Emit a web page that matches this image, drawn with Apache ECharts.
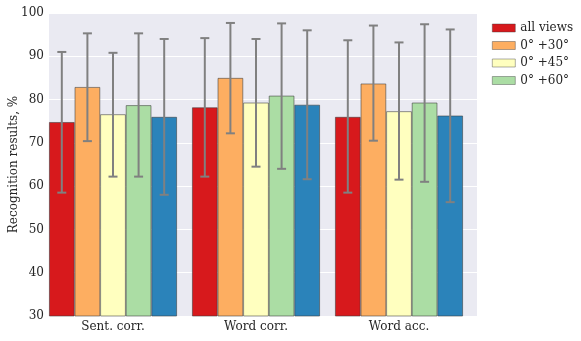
<!DOCTYPE html>
<html>
<head>
<meta charset="utf-8">
<script src="https://cdn.jsdelivr.net/npm/echarts@6/dist/echarts.min.js"></script>
<style>
  html, body { margin: 0; padding: 0; background: #fff; }
  #chart { width: 581px; height: 341px; }
</style>
</head>
<body>
<div id="chart"></div>
<script>
let categories = ["Sent. corr.", "Word corr.", "Word acc."];
let seriesNames = ["all views", "0° +30°", "0° +45°", "0° +60°", "other"];
let colors = ["#d7191c", "#fdae61", "#ffffbf", "#abdda4", "#2b83ba"];

// mean values per series, one entry per category
let allViews = [74.8, 78.2, 76.0];
let plus30 = [82.9, 85.0, 83.7];
let plus45 = [76.6, 79.3, 77.3];
let plus60 = [78.7, 80.9, 79.3];
let other = [76.0, 78.8, 76.3];

// error bar bounds
let errLow = [
    [58.5, 62.2, 58.5],
    [70.4, 72.2, 70.5],
    [62.2, 64.5, 61.5],
    [62.2, 64.0, 61.0],
    [58.0, 61.6, 56.3]
];
let errHigh = [
    [91.0, 94.2, 93.7],
    [95.3, 97.7, 97.1],
    [90.8, 94.0, 93.2],
    [95.3, 97.6, 97.4],
    [94.0, 96.0, 96.2]
];

let values = [allViews, plus30, plus45, plus60, other];
let catGap = 0.105;
let font = "DejaVu Serif";
let fs = 12;
let textColor = "#262626";

let chartDom = document.getElementById("chart");
let myChart = echarts.init(chartDom);

let barSeries = values.map((v, i) => ({
    name: seriesNames[i],
    type: "bar",
    xAxisIndex: 1,
    yAxisIndex: 1,
    data: v,
    barGap: "0%",
    barCategoryGap: (catGap * 100) + "%",
    itemStyle: {
        color: colors[i],
        borderColor: "rgba(60,60,60,0.7)",
        borderWidth: 0.8
    },
    silent: true
}));

let errData = [];
for (let s = 0; s < errLow.length; s++) {
    for (let c = 0; c < categories.length; c++) {
        errData.push([c, s, errLow[s][c], errHigh[s][c]]);
    }
}

let option = {
    animation: false,
    textStyle: { fontFamily: font },
    legend: {
        data: seriesNames.slice(0, 4),
        orient: "vertical",
        left: 487,
        top: 17,
        itemWidth: 23,
        itemHeight: 8,
        itemGap: 5.5,
        icon: "rect",
        itemStyle: { borderWidth: 0.6, borderColor: "rgba(60,60,60,0.7)" },
        textStyle: { fontFamily: font, fontSize: fs, color: textColor }
    },
    grid: [
        { left: 49, top: 13, width: 428, height: 303, show: true, backgroundColor: "#eaeaf2", borderWidth: 0, outerBoundsMode: "none" },
        { left: 41.5, top: 13, width: 429, height: 303, outerBoundsMode: "none" }
    ],
    xAxis: [
        { gridIndex: 0, type: "value", show: false, min: 0, max: 1 },
        {
            gridIndex: 1,
            type: "category",
            data: categories,
            axisLine: { show: false },
            axisTick: { show: false },
            axisLabel: { fontFamily: font, fontSize: fs, color: textColor, margin: 5 }
        }
    ],
    yAxis: [
        {
            gridIndex: 0,
            type: "value",
            min: 30,
            max: 100,
            interval: 10,
            name: "Recognition results, %",
            nameLocation: "middle",
            nameGap: 29,
            nameMoveOverlap: false,
            nameTextStyle: { fontFamily: font, fontSize: fs, color: textColor },
            axisLine: { show: false },
            axisTick: { show: false },
            axisLabel: { fontFamily: font, fontSize: fs, color: textColor, margin: 5 },
            splitLine: { lineStyle: { color: "#ffffff", width: 1.2 } }
        },
        { gridIndex: 1, type: "value", min: 30, max: 100, show: false }
    ],
    series: barSeries.concat([{
        type: "custom",
        xAxisIndex: 1,
        yAxisIndex: 1,
        silent: true,
        z: 5,
        encode: { x: 0, y: [2, 3] },
        data: errData,
        renderItem: function (params, api) {
            let c = api.value(0);
            let s = api.value(1);
            let lo = api.coord([c, api.value(2)]);
            let hi = api.coord([c, api.value(3)]);
            let bandW = api.size([1, 0])[0];
            let barW = bandW * (1 - catGap) / 5;
            let x = lo[0] + (s - 2) * barW;
            let cap = 4.5;
            let style = { stroke: "#808080", lineWidth: 2 };
            return {
                type: "group",
                children: [
                    { type: "line", shape: { x1: x, y1: lo[1], x2: x, y2: hi[1] }, style: style },
                    { type: "line", shape: { x1: x - cap, y1: lo[1], x2: x + cap, y2: lo[1] }, style: style },
                    { type: "line", shape: { x1: x - cap, y1: hi[1], x2: x + cap, y2: hi[1] }, style: style }
                ]
            };
        }
    }])
};

myChart.setOption(option);
</script>
</body>
</html>
